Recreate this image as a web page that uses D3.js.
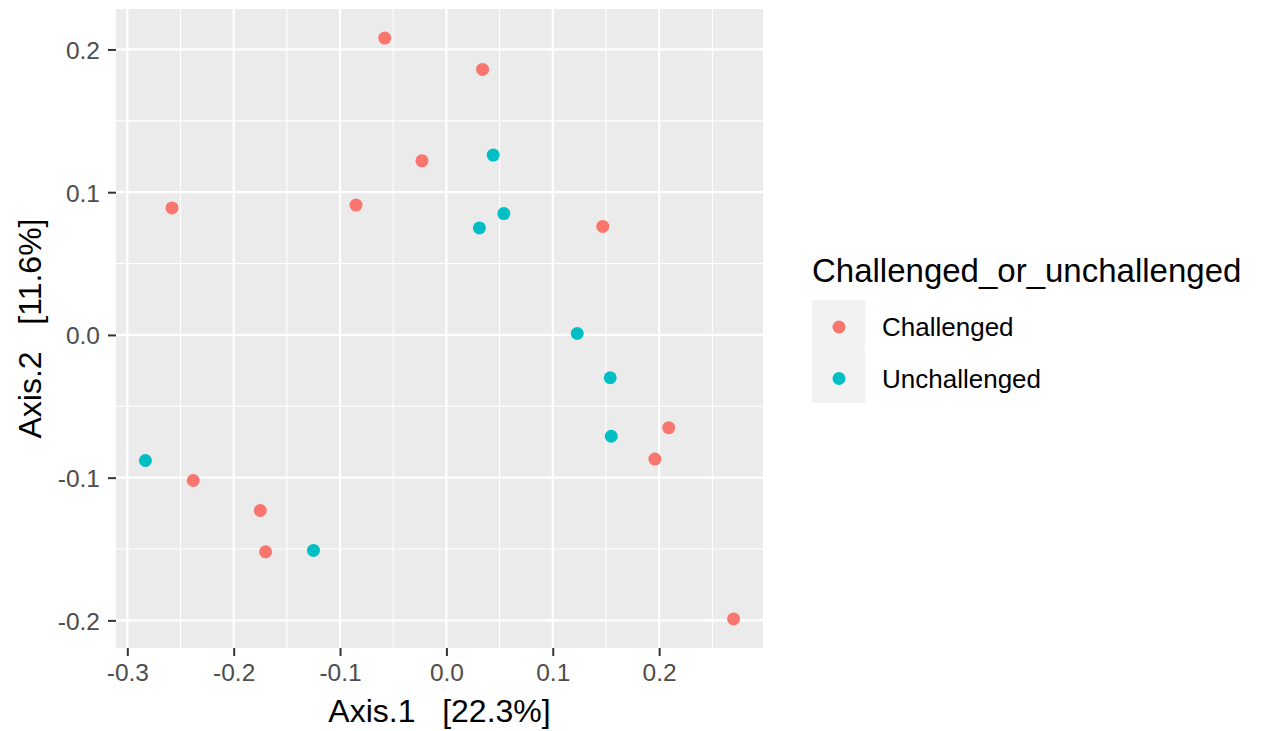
<!DOCTYPE html>
<html>
<head>
<meta charset="utf-8">
<script src="https://cdn.jsdelivr.net/npm/d3@7"></script>
<style>
  body { margin: 0; background: #fff; }
  text { font-family: "Liberation Sans", Arial, Helvetica, sans-serif; }
</style>
</head>
<body>
<div class="chart"></div>
<script>
// PCoA sample scores
const axis1 = [-0.058, 0.034, -0.023, 0.044, -0.085, 0.054, 0.031, -0.258, 0.147, 0.123,
  0.154, 0.155, 0.209, 0.196, 0.270, -0.283, -0.238, -0.175, -0.170, -0.125];
const axis2 = [0.208, 0.186, 0.122, 0.126, 0.091, 0.085, 0.075, 0.089, 0.076, 0.001,
  -0.030, -0.071, -0.065, -0.087, -0.199, -0.088, -0.102, -0.123, -0.152, -0.151];
const sampleGroup = ['Challenged', 'Challenged', 'Challenged', 'Unchallenged', 'Challenged',
  'Unchallenged', 'Unchallenged', 'Challenged', 'Challenged', 'Unchallenged',
  'Unchallenged', 'Unchallenged', 'Challenged', 'Challenged', 'Challenged',
  'Unchallenged', 'Challenged', 'Challenged', 'Challenged', 'Unchallenged'];

const groups = ['Challenged', 'Unchallenged'];
const xTicks = [-0.3, -0.2, -0.1, 0.0, 0.1, 0.2];
const yTicks = [-0.2, -0.1, 0.0, 0.1, 0.2];
const xMinor = [-0.25, -0.15, -0.05, 0.05, 0.15, 0.25];
const yMinor = [-0.15, -0.05, 0.05, 0.15];

const xTitle = 'Axis.1   [22.3%]';
const yTitle = 'Axis.2   [11.6%]';
const legendTitle = 'Challenged_or_unchallenged';

const points = axis1.map((d, i) => ({x: d, y: axis2[i], group: sampleGroup[i]}));

// ggplot style 5% expansion of the data range
function expanded(values) {
  const [lo, hi] = d3.extent(values);
  const pad = (hi - lo) * 0.05;
  return [lo - pad, hi + pad];
}

document.addEventListener('DOMContentLoaded', () => {
  const width = 1262;
  const height = 731;
  const panel = {left: 116, right: 763, top: 9, bottom: 648};

  const x = d3.scaleLinear().domain(expanded(axis1)).range([panel.left, panel.right]);
  const y = d3.scaleLinear().domain(expanded(axis2)).range([panel.bottom, panel.top]);
  const color = d3.scaleOrdinal().domain(groups).range(['#F8766D', '#00BFC4']);
  const fmt = d => d.toFixed(1);

  const svg = d3.select('.chart').append('svg')
    .attr('width', width).attr('height', height);

  svg.append('rect')
    .attr('x', panel.left).attr('y', panel.top)
    .attr('width', panel.right - panel.left).attr('height', panel.bottom - panel.top)
    .attr('fill', '#EBEBEB');

  // minor grid
  svg.append('g').selectAll('line').data(xMinor).enter().append('line')
    .attr('x1', d => x(d)).attr('x2', d => x(d))
    .attr('y1', panel.top).attr('y2', panel.bottom)
    .attr('stroke', '#fff').attr('stroke-width', 1.1);
  svg.append('g').selectAll('line').data(yMinor).enter().append('line')
    .attr('y1', d => y(d)).attr('y2', d => y(d))
    .attr('x1', panel.left).attr('x2', panel.right)
    .attr('stroke', '#fff').attr('stroke-width', 1.1);

  // major grid
  svg.append('g').selectAll('line').data(xTicks).enter().append('line')
    .attr('x1', d => x(d)).attr('x2', d => x(d))
    .attr('y1', panel.top).attr('y2', panel.bottom)
    .attr('stroke', '#fff').attr('stroke-width', 2.2);
  svg.append('g').selectAll('line').data(yTicks).enter().append('line')
    .attr('y1', d => y(d)).attr('y2', d => y(d))
    .attr('x1', panel.left).attr('x2', panel.right)
    .attr('stroke', '#fff').attr('stroke-width', 2.2);

  // axes
  const xAxis = svg.append('g')
    .attr('transform', `translate(0,${panel.bottom})`)
    .call(d3.axisBottom(x).tickValues(xTicks).tickFormat(fmt).tickSize(8).tickPadding(8));
  const yAxis = svg.append('g')
    .attr('transform', `translate(${panel.left},0)`)
    .call(d3.axisLeft(y).tickValues(yTicks).tickFormat(fmt).tickSize(8).tickPadding(8));

  [xAxis, yAxis].forEach(g => {
    g.select('.domain').remove();
    g.selectAll('.tick line').attr('stroke', '#333').attr('stroke-width', 2);
    g.selectAll('.tick text').attr('fill', '#4D4D4D')
      .style('font-size', '24.5px');
  });
  yAxis.selectAll('.tick text').attr('dy', '0.36em');

  // points
  svg.append('g').selectAll('.dot').data(points).enter().append('circle')
    .attr('class', 'dot')
    .attr('r', 6.5)
    .attr('cx', d => x(d.x))
    .attr('cy', d => y(d.y))
    .attr('fill', d => color(d.group));

  // axis titles
  svg.append('text')
    .attr('x', (panel.left + panel.right) / 2).attr('y', 722)
    .attr('text-anchor', 'middle')
    .style('font-size', '32px').style('white-space', 'pre')
    .text(xTitle);
  svg.append('text')
    .attr('transform', `translate(41,${(panel.top + panel.bottom) / 2}) rotate(-90)`)
    .attr('text-anchor', 'middle')
    .style('font-size', '32px').style('white-space', 'pre')
    .text(yTitle);

  // legend
  const legend = svg.append('g').attr('transform', 'translate(812,0)');
  legend.append('text')
    .attr('x', 0).attr('y', 282)
    .style('font-size', '33px')
    .text(legendTitle);
  const keys = legend.selectAll('.key').data(groups).enter().append('g')
    .attr('class', 'key')
    .attr('transform', (d, i) => `translate(0,${300 + i * 51.5})`);
  keys.append('rect')
    .attr('width', 53).attr('height', 51.5)
    .attr('fill', '#F2F2F2');
  keys.append('circle')
    .attr('cx', 27).attr('cy', 27).attr('r', 6.5)
    .attr('fill', d => color(d));
  keys.append('text')
    .attr('x', 70).attr('y', 36)
    .style('font-size', '26px')
    .text(d => d);
});
</script>
</body>
</html>
